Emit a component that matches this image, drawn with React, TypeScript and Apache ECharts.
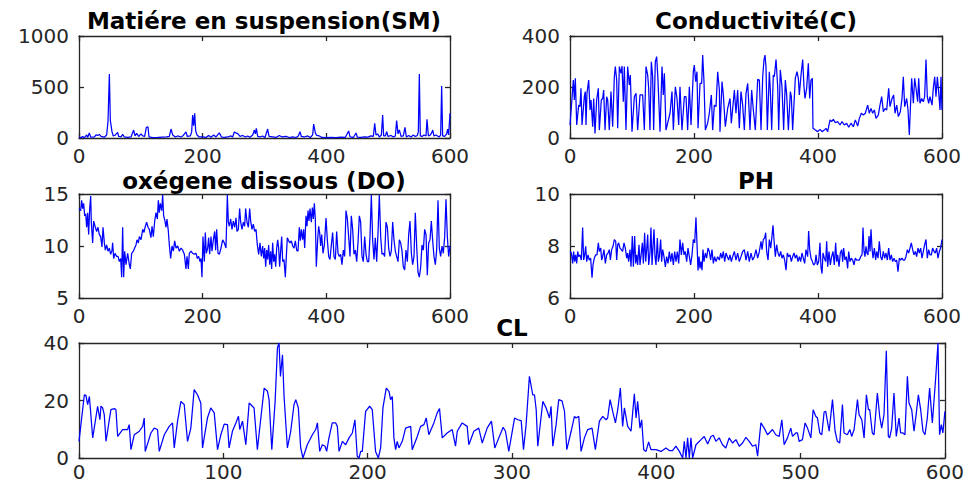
import React, { useEffect, useRef } from "react";
import * as echarts from "echarts";

const AXIS_COLOR = "#262626";
const LINE_COLOR = "#0000ff";

const titles = ["Matiére en suspension(SM)", "Conductivité(C)", "oxégene dissous (DO)", "PH", "CL"];

const xTicksSmall = [0, 200, 400, 600];
const xTicksWide = [0, 100, 200, 300, 400, 500, 600];
const smTicks = [0, 500, 1000];
const cTicks = [0, 200, 400];
const doTicks = [5, 10, 15];
const phTicks = [6, 8, 10];
const clTicks = [0, 20, 40];

const smData: [number, number][] = [[0,5],[3.2,3],[5.9,15],[8.6,2],[12.4,30],[14,5],[16.7,50],[18.9,8],[24.8,10],[27.5,30],[30.2,25],[32.9,35],[35.6,15],[41,8],[44.7,30],[46.9,160],[49.1,628],[50.7,170],[53.4,60],[55.5,20],[58.8,30],[62.5,55],[64.2,15],[67.9,10],[70.6,35],[73.3,10],[78.7,5],[84.1,10],[88.4,78],[90.6,20],[93.3,45],[96.5,15],[100.3,40],[103,20],[106.2,15],[108.9,105],[111.6,108],[113.2,10],[119.1,3],[127.2,5],[135.3,8],[141.8,10],[146.1,15],[148.8,88],[151.5,30],[155.8,10],[159.6,20],[165,10],[168.7,25],[173,60],[175.2,15],[180,20],[182.2,60],[183.8,225],[185.4,120],[187.1,242],[188.7,70],[190.8,30],[194.6,10],[200,10],[205.4,5],[209.7,25],[213.5,8],[217.8,30],[221.6,10],[226.9,50],[230.2,12],[235,5],[240.4,10],[245.8,20],[248.5,10],[251.2,59],[253.9,50],[257.1,40],[260.4,15],[264.7,25],[269,10],[272.8,20],[276.5,8],[280.9,30],[283.6,78],[285.2,40],[286.8,95],[289,15],[292.7,10],[297,20],[300.8,5],[305.1,88],[307.3,15],[313.2,10],[318.6,5],[324,25],[328.3,10],[334.8,15],[340.2,5],[345.6,12],[351,5],[354.7,20],[357.4,62],[359.6,15],[364.4,10],[369.8,20],[374.1,5],[377.9,30],[379.5,137],[382.2,50],[384.4,25],[388.7,20],[393,5],[399.5,3],[407.5,5],[415.6,3],[423.7,8],[430.7,5],[436.1,69],[438.3,10],[443.7,5],[448,49],[450.2,8],[456.1,5],[461.5,10],[466.9,8],[472.2,20],[476,15],[478.2,144],[480.3,30],[483,40],[485.7,10],[489,30],[491.1,225],[492.7,20],[495.4,20],[497.6,62],[499.7,15],[504.6,25],[508.4,10],[511.6,20],[513.7,170],[515.9,40],[518.1,80],[520.8,15],[524.5,20],[527.2,105],[529.4,10],[533.2,25],[536.9,10],[540.7,30],[543.9,15],[547.2,25],[548.8,60],[550.4,628],[552,20],[554.7,15],[558,30],[561.2,20],[562.8,183],[565,20],[568.2,30],[570.4,50],[572,78],[574.1,20],[577.4,30],[580,20],[582.7,10],[584.9,30],[586.5,510],[588.1,20],[591.4,15],[594.6,40],[596.2,88],[597.8,30],[600,242]];

const cData: [number, number][] = [[0,51],[3.2,155],[5.4,227],[7,149],[8.6,234],[10.8,51],[14,129],[16.1,123],[17.7,195],[19.4,51],[23.1,162],[24.7,182],[25.8,51],[27.4,175],[30.1,227],[32.3,110],[33.9,149],[36.6,44],[38.2,155],[40.3,18],[43,149],[45.7,195],[47.3,31],[50.5,149],[52.7,155],[54.3,188],[56.5,31],[59.1,162],[60.8,149],[63.4,31],[66.1,182],[68.8,44],[71.5,240],[73.1,280],[75.3,227],[76.9,38],[79.6,280],[82.3,254],[83.9,282],[86,142],[87.6,280],[90.3,31],[93,280],[95.7,208],[97.3,247],[100,25],[103.8,162],[106.5,175],[109.1,31],[112.9,169],[117.2,169],[119.9,31],[122.6,280],[125.3,247],[126.9,195],[129,31],[131.2,299],[133.3,240],[134.9,31],[137.6,299],[139.8,319],[141.9,227],[145.2,25],[148.4,280],[150.5,169],[152.2,254],[154.8,31],[157.5,58],[161.3,97],[164.5,182],[166.7,31],[169.9,201],[172.6,155],[175.3,51],[177.4,201],[180.6,31],[184.4,162],[187.1,162],[189.8,31],[192.5,201],[195.2,51],[198.9,260],[200.5,286],[202.7,221],[204.8,260],[206.5,38],[209.7,214],[212.4,214],[214,325],[216.1,221],[218.3,31],[222,58],[224.7,97],[228,169],[230.1,31],[232.8,129],[235.5,123],[238.2,260],[240.9,188],[241.9,25],[245.2,221],[247.3,169],[250.5,44],[254.3,116],[258.1,155],[260.2,58],[263.4,142],[265.1,188],[267.7,97],[270.4,188],[273.1,38],[275.8,182],[278.5,129],[281.2,31],[283.9,175],[286.6,214],[288.2,142],[290.3,31],[293,188],[295.7,110],[298.9,31],[302.7,230],[305.4,227],[308.1,31],[310.8,240],[312.9,306],[314.5,325],[316.1,280],[318.3,31],[321.5,260],[323.1,188],[325.3,31],[327.9,247],[329.6,240],[332.3,308],[335,201],[336.6,31],[339.2,267],[341.9,201],[344.6,31],[347.3,227],[349.5,169],[352.2,31],[355.4,182],[357,162],[359.1,31],[363.4,234],[366.1,260],[368.3,234],[369.9,169],[372.6,247],[375.3,308],[377.4,201],[379,155],[381.7,195],[384.4,293],[386.6,155],[388.7,227],[390.9,234],[391.9,38],[395.7,31],[399.5,25],[403.2,34],[406.5,25],[410.2,31],[412.9,38],[415.6,25],[419.4,71],[422,64],[424.7,73],[428,60],[431.7,64],[435.5,51],[438.7,64],[442.5,51],[446.2,58],[449.5,42],[453.2,58],[457,44],[460.2,71],[464,47],[466.7,77],[469.9,97],[473.1,90],[476.3,97],[480.1,129],[482.8,97],[485.5,116],[488.2,97],[490.9,110],[493.5,77],[497.3,90],[500,129],[502.7,162],[505.4,103],[508.1,116],[510.8,110],[514,195],[516.1,123],[519.4,155],[522,169],[524.2,97],[526.9,129],[529.6,84],[532.8,103],[535.5,155],[537.6,240],[539.8,123],[543,155],[545.2,110],[547.3,12],[548.9,110],[551.1,234],[553.8,136],[555.9,234],[558.1,195],[560.8,142],[562.4,234],[564.5,136],[567.2,155],[569.9,142],[572,162],[574.2,308],[576.3,162],[578.5,136],[580.6,162],[583.9,129],[586,195],[588.2,240],[590.3,162],[592.5,240],[594.6,182],[596.8,110],[598.4,240],[600,110]];

const doData: [number, number][] = [[0,13.6],[2.7,13.4],[4.3,14.4],[5.9,13.6],[7.5,14.1],[9.2,12.9],[10.8,13.1],[12.4,11.8],[14,13.2],[15.6,11.1],[17.3,13.6],[18.9,14.8],[19.9,12.3],[22.1,10.3],[23.7,12.4],[25.9,11.9],[28.6,11.4],[30.7,11.8],[32.9,11.1],[35,10.9],[37.2,9.9],[38.8,11.8],[41,10.3],[42.6,9.6],[44.7,10.1],[46.9,9.5],[49.1,9.8],[51.2,9.2],[53.4,9.6],[54.4,10.3],[56.1,8.8],[58.2,9.3],[60.9,9.0],[63.1,9.0],[65.2,8.5],[67.4,8.8],[69,7.0],[70.6,11.8],[72.2,7.0],[73.9,9.5],[76,8.2],[78.7,9.3],[81.4,8.2],[83,7.8],[85.2,9.3],[87.9,9.5],[90,9.8],[92.2,10.1],[93.8,10.6],[96,10.3],[97.6,10.9],[100.3,10.6],[103,11.6],[105.1,11.3],[107.3,11.9],[109.4,12.3],[111.6,11.8],[113.7,11.6],[116.4,10.8],[118.1,11.9],[120.2,10.9],[122.4,12.4],[124.5,13.2],[126.7,12.6],[128.3,14.4],[129.9,13.2],[131.5,14.1],[133.7,13.4],[135.3,14.9],[136.9,12.9],[139.1,12.4],[140.7,11.8],[142.3,12.6],[144.5,11.4],[146.1,10.1],[148.2,8.8],[150.4,10.0],[152.6,9.5],[154.7,10.5],[156.9,9.8],[159.6,10.0],[162.3,9.5],[165,9.8],[167.7,9.6],[170.4,9.2],[173,7.8],[174.7,9.0],[176.8,7.8],[178.4,9.3],[181.1,9.5],[183.8,9.3],[186.5,9.2],[189.2,9.3],[191.4,8.8],[193.5,9.0],[195.7,8.5],[197.3,8.8],[198.9,7.0],[200.5,10.9],[202.7,8.5],[204.3,11.3],[205.9,9.3],[208.1,9.8],[209.7,10.8],[211.3,9.2],[213.5,10.9],[215.1,9.5],[217.3,10.6],[219.4,11.4],[221,9.6],[222.6,11.6],[224.8,9.3],[227,9.2],[229.6,9.8],[232.3,10.6],[235,10.3],[237.7,9.8],[239.9,14.9],[241.5,12.3],[243.1,11.9],[245.3,12.6],[247.4,11.6],[249.6,12.4],[251.8,11.8],[253.9,12.7],[255.5,11.4],[257.7,11.6],[259.8,13.6],[261.5,12.3],[263.6,11.6],[265.8,12.3],[267.9,11.9],[269.5,13.6],[271.7,12.3],[273.9,11.8],[276,13.6],[277.6,12.4],[279.8,11.6],[281.9,12.1],[284.1,11.4],[286.3,11.6],[288.4,10.1],[290.6,9.2],[292.7,10.3],[294.9,9.0],[297,10.0],[298.7,8.8],[300.3,9.8],[301.9,8.0],[303.5,9.6],[305.1,8.7],[306.7,10.1],[308.4,8.2],[310,9.5],[311.6,7.8],[313.2,10.3],[314.8,8.5],[316.4,9.2],[318.1,8.0],[319.7,9.8],[321.3,10.6],[322.9,9.8],[324.5,8.0],[326.1,9.5],[327.8,10.9],[329.4,8.5],[331.5,8.7],[333.7,7.0],[335.3,9.0],[336.9,10.8],[339.1,10.5],[341.2,10.3],[343.4,10.5],[345.6,10.0],[347.7,9.8],[349.9,10.5],[352,9.6],[354.2,9.5],[356.3,11.8],[358,10.5],[359.6,11.6],[361.7,10.6],[363.3,11.6],[365,9.8],[367.1,12.9],[368.7,11.9],[370.4,13.4],[372,12.4],[373.6,13.6],[375.7,12.3],[377.4,13.7],[379,12.6],[380.6,14.1],[382.2,12.6],[383.8,8.0],[386,10.6],[387.6,11.9],[389.2,11.3],[390.8,10.0],[392.5,11.1],[394.6,9.3],[396.8,10.1],[399.5,12.7],[401.6,10.6],[403.8,9.0],[405.9,8.7],[408.1,10.1],[410.2,11.3],[412.4,9.0],[414.6,8.7],[416.7,11.4],[418.9,9.3],[421,9.0],[423.2,9.2],[425.3,8.2],[427.5,9.6],[429.6,9.0],[431.8,13.4],[434,12.6],[436.1,10.9],[438.3,9.0],[440.4,12.9],[442.6,11.6],[444.7,9.2],[446.9,9.6],[449.1,8.5],[451.2,10.3],[453.4,12.9],[455.5,12.3],[457.7,9.0],[459.8,8.5],[462,10.9],[464.2,9.2],[466.3,8.5],[468.5,8.5],[470.6,10.9],[472.8,14.9],[474.9,10.6],[477.1,8.7],[479.2,10.8],[481.4,8.5],[483.6,11.3],[485.7,14.9],[487.9,10.9],[490,9.2],[492.2,9.3],[494.3,9.0],[496.5,12.3],[498.7,11.8],[500.8,9.8],[503,9.0],[505.1,9.5],[507.3,12.3],[509.4,10.6],[511.6,9.5],[513.7,9.0],[515.9,8.5],[518.1,10.6],[520.2,10.3],[522.4,9.5],[524.5,8.0],[526.7,7.7],[528.8,9.6],[531,8.5],[533.2,11.1],[535.3,12.4],[537.5,9.3],[539.6,8.2],[541.8,9.0],[543.9,13.2],[546.1,10.0],[548.2,7.5],[550.4,7.0],[552.6,8.0],[554.7,10.1],[556.9,9.6],[559,11.6],[561.2,11.1],[563.3,7.2],[565.5,10.3],[567.7,10.6],[569.8,12.4],[572,10.5],[574.1,9.0],[576.3,8.2],[578.4,9.6],[580.6,14.4],[582.7,9.8],[584.9,9.0],[587.1,10.0],[589.2,9.3],[591.4,10.9],[593.5,14.5],[595.7,10.9],[597.8,9.0],[600,10.0]];

const phData: [number, number][] = [[0,7.79],[2.2,7.73],[4.3,7.33],[5.9,7.79],[7.5,7.40],[9.1,7.66],[10.8,7.33],[12.4,7.79],[14,7.59],[16.1,7.66],[18.3,7.46],[20.4,8.71],[22,7.46],[23.7,7.66],[25.3,7.99],[26.9,7.40],[29,7.66],[31.2,7.46],[33.3,7.53],[35.5,6.78],[37.1,7.27],[39.2,7.53],[41.4,7.66],[43.5,7.66],[45.7,8.12],[47.3,7.79],[49.5,7.92],[51.1,7.46],[52.7,7.59],[54.8,7.86],[57,7.33],[59.1,7.66],[61.3,7.73],[63.4,7.86],[65.1,7.46],[67.2,7.86],[69.4,7.99],[71.5,8.25],[73.7,8.18],[75.3,7.46],[76.9,8.05],[78.5,8.12],[80.6,7.92],[82.8,7.86],[84.9,7.79],[87.1,8.12],[89.2,7.92],[91.4,7.53],[93,7.73],[94.6,7.40],[96.8,7.86],[98.4,7.20],[100.5,8.38],[102.2,7.20],[104.3,8.38],[105.9,7.33],[107.5,7.66],[109.1,7.27],[111.3,8.05],[112.9,7.27],[115,7.73],[116.7,8.12],[118.3,7.33],[120.4,8.51],[122,7.40],[123.7,7.86],[125.3,8.44],[126.9,7.27],[129,7.73],[130.6,8.71],[132.3,7.27],[133.9,7.99],[135.5,8.64],[137.1,7.59],[138.7,7.27],[140.9,8.31],[142.5,7.40],[144.1,7.59],[146.2,8.25],[147.8,7.40],[149.5,7.86],[151.6,7.59],[153.8,7.20],[155.9,7.59],[158.1,7.33],[160.2,7.79],[162.4,7.40],[164.5,7.73],[166.7,7.27],[168.8,7.79],[171,7.40],[173.1,7.79],[175.3,7.33],[177.4,8.25],[179.6,7.66],[181.7,8.12],[183.9,7.66],[186,7.79],[188.2,7.40],[190.3,7.92],[192.5,7.59],[194.6,7.27],[196.8,7.66],[198.9,8.25],[201.1,8.12],[203.2,9.10],[204.8,8.12],[206.5,7.06],[208.1,7.59],[209.7,7.14],[211.3,7.40],[212.9,7.07],[214.5,7.86],[216.1,7.40],[218.3,7.73],[220.4,7.53],[222.6,7.92],[224.7,7.79],[226.9,7.46],[229,7.86],[231.2,7.33],[233.3,7.59],[235.5,7.40],[238.2,7.59],[240.9,7.46],[243,7.73],[245.2,7.53],[247.3,7.79],[249.5,7.40],[251.6,7.73],[253.8,7.59],[255.9,7.46],[258.1,7.66],[260.2,7.40],[262.4,7.59],[265.1,7.79],[267.7,7.46],[270.4,7.73],[273.1,7.40],[275.8,7.59],[278.5,7.79],[281.2,7.86],[283.9,7.46],[286.6,7.79],[289.2,7.40],[291.9,7.73],[294.6,7.46],[297.3,7.59],[300,7.86],[302.7,7.53],[305.4,7.79],[308.1,8.18],[309.7,7.86],[311.8,8.25],[314,8.31],[315.6,8.51],[317.2,7.79],[319.4,7.46],[321.5,8.25],[323.7,7.92],[325.8,8.38],[327.4,8.80],[329,8.25],[331.2,7.59],[333.3,8.05],[335.5,7.73],[337.6,7.59],[339.8,7.79],[341.9,7.53],[344.1,7.66],[346.2,7.46],[348.4,7.07],[350.5,7.73],[352.7,7.59],[354.8,7.66],[357,7.40],[359.1,7.59],[361.3,7.73],[363.4,7.53],[365.6,7.66],[367.7,7.40],[369.9,7.59],[372,7.40],[374.2,7.73],[376.3,7.53],[378.5,7.33],[380.6,7.86],[383.3,7.59],[384.9,8.58],[386.6,7.86],[388.7,7.53],[390.9,7.40],[393,7.27],[395.2,7.33],[396.8,7.66],[398.9,7.27],[401.1,7.40],[403.2,8.12],[404.8,7.20],[406.5,6.94],[408.1,7.73],[410.2,7.53],[412.4,7.40],[414,8.18],[415.6,7.20],[417.7,7.79],[419.9,7.27],[422,7.59],[424.2,7.79],[426.3,7.27],[428.5,8.12],[430.1,7.40],[431.7,7.66],[433.9,7.20],[436,7.73],[438.2,7.86],[439.8,7.40],[441.4,7.92],[443.5,7.46],[445.7,7.59],[447.8,7.14],[449.5,7.79],[451.6,7.40],[453.8,7.53],[455.9,7.46],[458.1,7.27],[460.2,7.53],[462.4,7.46],[464.5,7.46],[466.7,7.46],[468.8,7.59],[471,7.66],[472.6,8.71],[474.2,7.79],[475.8,7.59],[477.4,7.99],[479,7.73],[480.6,7.66],[482.3,8.38],[483.9,7.79],[485.5,8.64],[487.1,7.92],[488.7,7.53],[490.9,7.92],[493,7.46],[494.6,7.79],[496.8,7.53],[498.9,8.18],[501.1,7.59],[503.2,7.46],[505.4,7.79],[507.5,7.53],[509.7,7.73],[511.8,7.46],[514,7.92],[516.1,7.46],[518.3,7.66],[520.4,7.40],[522.6,7.53],[524.7,7.40],[526.9,7.46],[529,7.01],[531.2,7.53],[533.3,7.46],[535.5,7.53],[537.6,7.46],[539.8,7.46],[541.9,7.59],[544.1,7.86],[546.2,7.73],[548.4,7.92],[550.5,8.12],[552.7,7.86],[554.8,7.66],[557,7.79],[559.1,7.59],[561.3,7.92],[563.4,7.73],[565.6,7.92],[567.7,7.53],[569.9,7.79],[572,8.05],[574.2,8.25],[576.3,7.53],[578.5,7.86],[580.6,7.66],[582.8,7.66],[584.9,7.92],[587.1,7.79],[589.2,7.73],[591.4,7.92],[593.5,7.53],[595.7,7.79],[597.8,7.92],[600,8.25]];

const clData: [number, number][] = [[0,5.8],[3.7,22],[4.8,21.8],[6,18.6],[7.2,21.4],[9.5,7],[12.9,18],[14.5,13.3],[15.2,18],[16.4,17.4],[17.5,15.1],[18.7,5.8],[22.1,16.8],[24.5,17.2],[25.6,16.8],[26.8,7.5],[30.2,9.9],[33.7,9.9],[34.8,11.6],[36,2.9],[38.3,8.1],[41.8,9.3],[44.1,11],[45.2,13.9],[45.9,2.3],[49.8,8.7],[52.1,10.4],[54.4,9.9],[55.6,2.3],[59.1,8.1],[62.5,11],[64.8,12.2],[66,3.5],[68.3,12.8],[70.6,19.7],[71.7,19.1],[72.9,18.6],[75.2,5.8],[77.5,10.4],[79.8,23.8],[82.1,22],[84.4,19.1],[85.6,3.5],[89,13.9],[91.3,17.4],[93.7,15.7],[96,2.9],[98.3,8.1],[100.6,11.8],[102.9,11.6],[104,3.5],[106.3,9.3],[108.7,12.2],[110.5,14.5],[111.4,9.9],[113.3,12.8],[115.6,4.6],[117.9,19.1],[119,18.6],[121.3,17.4],[123.6,2.9],[126,13.9],[128.3,24.3],[130.6,23.2],[131.7,20.3],[133.6,2.9],[135.9,19.7],[137.5,38.3],[138.6,40],[139.6,28.4],[141,35.9],[142.1,21.4],[144.4,3.5],[146.7,9.3],[149,18.6],[150.2,20.3],[152,17.4],[153.6,3.5],[155.2,0],[158.2,4.6],[161.7,8.1],[164,9.9],[165.2,12.2],[166.8,2.3],[168.6,4.6],[170.5,4.1],[171.6,2.3],[173.2,7],[175.5,12.2],[177.9,12.2],[179,11],[180.2,2.3],[182.5,5.8],[184.8,4.6],[187.1,7],[189.4,8.7],[191.2,13.3],[192.8,0.6],[194,0],[195.2,2.3],[196.3,2.3],[198.6,16.2],[201.4,18],[203.2,16.8],[205.5,2.3],[207.4,0],[209,3.5],[210.6,17.4],[212.9,24.3],[214.8,23.2],[215.9,20.3],[217.1,21.4],[218.2,7],[219.4,2.9],[220.5,5.8],[221.7,3.5],[224,5.8],[226.3,10.4],[229.8,11],[230.9,2.9],[234.4,7.5],[236.7,11],[239,11.6],[240.6,13.9],[242.4,8.1],[245.9,12.2],[248.2,15.7],[249.8,17.2],[251.7,7],[255.1,8.7],[258.6,9.9],[260.9,4.1],[262.1,9.3],[265.5,12.2],[269,11],[270.1,4.6],[273.6,9.3],[277,10.4],[279.4,5.2],[282.8,10.4],[285.8,12.8],[288.1,3.5],[290.9,7],[293.9,10.7],[295.5,9.3],[297.8,2.3],[301.8,13.9],[304.1,13.3],[306.4,13],[308,2.9],[309.8,11.6],[312.1,28.4],[314.4,22],[315.6,22],[316.8,16.8],[317.9,4.1],[321.4,19.7],[323.7,17.4],[326,13.9],[327.1,18],[328.3,4.1],[330.6,11.6],[332.4,20.3],[334.7,19.9],[336.4,16.2],[338,2.9],[341,9.3],[343.3,14.5],[344.4,13.9],[346.3,14.5],[347.9,2.3],[350.2,7],[352.5,9.9],[355.5,10.4],[357.8,2.9],[360.6,12.8],[362.9,14.5],[365.2,13.3],[366.3,13.9],[368,20.3],[369.8,16.2],[371.7,12.2],[373.3,16.8],[375.1,24.3],[376.7,11],[377.9,17.4],[380.2,11],[382.5,9.3],[384.8,22.3],[386,13.9],[387.1,19.7],[388.7,10.4],[389.9,13.3],[391.3,2.9],[392.9,2.3],[394.7,5.6],[396.3,2.9],[399.8,2.9],[403.3,2.3],[406.7,3.5],[409,2.6],[411.3,2.6],[413.6,4.1],[416,2.3],[418.3,0],[419.4,5.8],[420.6,0],[421.7,7],[422.9,0],[424,7],[425.2,0],[427.5,4.6],[431,6.4],[433.2,7.5],[435.6,4.9],[437.9,7.5],[439.5,7.9],[441.3,5.8],[443.6,7],[445.9,4.6],[448.2,3.5],[450.5,7],[452.9,5.2],[455.2,6.4],[457.5,4.1],[459.8,5.2],[462.1,7.2],[464.4,5.8],[466.7,4.1],[469,4.6],[470.2,0.6],[472.5,12.2],[474.8,10.4],[477.1,8.1],[479.4,9.3],[480.5,9.9],[482.8,8.1],[485.2,7.5],[487,13.3],[488.6,4.6],[490.9,7],[493.2,10.4],[494.4,7.5],[496.7,8.7],[497.8,8.7],[499,5.8],[501.3,6.4],[503.1,12.2],[504.8,10.4],[507.1,7],[508.7,16.8],[510.5,14.5],[511.7,13.9],[513.3,8.7],[514.7,8.1],[516.3,16],[517.4,16.2],[519.8,9.3],[522.1,20.3],[523.9,9.3],[525.5,5.8],[527.1,5.2],[529,18.6],[530.1,8.7],[532.4,8.1],[534.1,9.9],[535.4,7.5],[537.1,9.9],[539.4,20.3],[540.5,15.1],[542.4,13.3],[544,7],[545.6,22],[547,16.8],[547.9,16.8],[549.7,8.7],[550.9,8.1],[553.2,22.6],[554.8,14.5],[556.2,10.4],[557.8,15.1],[559.4,37.3],[560.8,7.5],[561.7,7],[563.1,10.4],[564.7,22.6],[566.3,7.5],[568.2,13.9],[569.3,8.7],[570.9,8.7],[572.3,8.1],[574,28.4],[575.1,19.1],[577,16.8],[578.6,9.3],[580.2,15.7],[581.6,22],[583.2,16.8],[584.8,9.3],[586.2,8.1],[587.8,13.9],[589.4,24.3],[591.3,12.2],[593.6,27.8],[595.2,40],[596.3,8.1],[597.5,11.6],[598.6,8.7],[600,16.2]];

const panels = [
  { title: titles[0], data: smData, xTicks: xTicksSmall, yTicks: smTicks, grid: { left: 79, top: 36, width: 371, height: 102 }, tx: 264, ty: 21, xMargin: 9 },
  { title: titles[1], data: cData, xTicks: xTicksSmall, yTicks: cTicks, grid: { left: 570, top: 36, width: 372, height: 102 }, tx: 756, ty: 21, xMargin: 9 },
  { title: titles[2], data: doData, xTicks: xTicksSmall, yTicks: doTicks, grid: { left: 79, top: 194, width: 371, height: 104 }, tx: 264, ty: 181, xMargin: 9 },
  { title: titles[3], data: phData, xTicks: xTicksSmall, yTicks: phTicks, grid: { left: 570, top: 194, width: 372, height: 104 }, tx: 756, ty: 181, xMargin: 9 },
  { title: titles[4], data: clData, xTicks: xTicksWide, yTicks: clTicks, grid: { left: 79, top: 343, width: 867, height: 115 }, tx: 512, ty: 328, xMargin: 5 },
];

export default function App() {
  const ref = useRef<HTMLDivElement>(null);
  useEffect(() => {
    if (!ref.current) return;
    const chart = echarts.init(ref.current, undefined, { renderer: "svg" });
    const lineStyle = { color: AXIS_COLOR, width: 1.3 };
    const labelStyle = { color: AXIS_COLOR, fontSize: 20, lineHeight: 18, fontFamily: "DejaVu Sans", formatter: (v: number) => String(v) };
    const grids: any[] = [];
    const xAxes: any[] = [];
    const yAxes: any[] = [];
    const series: any[] = [];
    const graphics: any[] = [];
    panels.forEach((p, i) => {
      grids.push({ ...p.grid, containLabel: false });
      const xMin = p.xTicks[0];
      const xMax = p.xTicks[p.xTicks.length - 1];
      const xInt = p.xTicks[1] - p.xTicks[0];
      const yMin = p.yTicks[0];
      const yMax = p.yTicks[p.yTicks.length - 1];
      const yInt = p.yTicks[1] - p.yTicks[0];
      ["bottom", "top"].forEach((pos, k) => {
        xAxes.push({
          gridIndex: i, type: "value", position: pos, min: xMin, max: xMax, interval: xInt,
          axisLine: { show: true, onZero: false, lineStyle },
          axisTick: { show: true, inside: true, length: 5, lineStyle },
          axisLabel: { ...labelStyle, show: k === 0, margin: p.xMargin },
          splitLine: { show: false },
        });
      });
      ["left", "right"].forEach((pos, k) => {
        yAxes.push({
          gridIndex: i, type: "value", position: pos, min: yMin, max: yMax, interval: yInt,
          axisLine: { show: true, onZero: false, lineStyle },
          axisTick: { show: true, inside: true, length: 5, lineStyle },
          axisLabel: { ...labelStyle, show: k === 0, margin: 10 },
          splitLine: { show: false },
        });
      });
      series.push({
        type: "line", xAxisIndex: 2 * i, yAxisIndex: 2 * i, data: p.data,
        showSymbol: false, symbol: "none", clip: true,
        lineStyle: { color: LINE_COLOR, width: 1.25 },
      });
      graphics.push({
        type: "text", x: p.tx, y: p.ty,
        style: { text: p.title, fill: "#000", font: 'bold 23px "DejaVu Sans"', textAlign: "center", textVerticalAlign: "middle" },
      });
    });
    chart.setOption({
      animation: false,
      backgroundColor: "#ffffff",
      grid: grids,
      xAxis: xAxes,
      yAxis: yAxes,
      series,
      graphic: graphics,
    });
    return () => chart.dispose();
  }, []);
  return <div ref={ref} style={{ position: "absolute", left: 0, top: 0, width: 967, height: 485 }} />;
}
